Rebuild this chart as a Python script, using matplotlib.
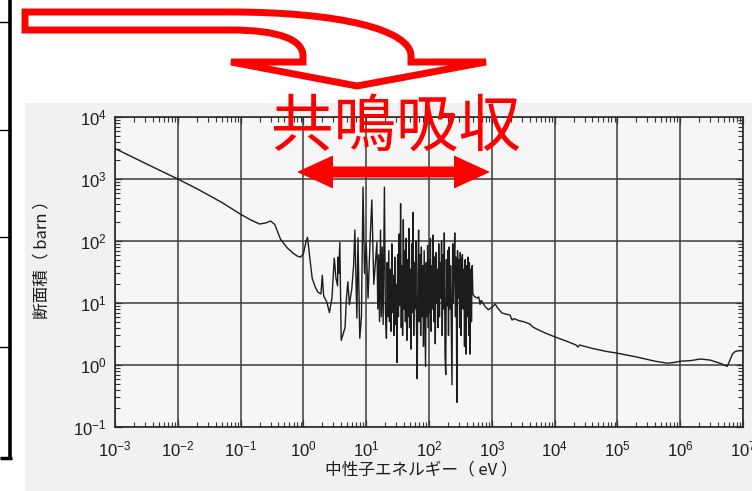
import matplotlib
matplotlib.use('Agg')
import matplotlib.pyplot as plt
from matplotlib.path import Path
from matplotlib.patches import PathPatch, Rectangle, Polygon
from matplotlib.ticker import LogLocator, NullFormatter

# ---------------- data ----------------
energy_ev = [
    0.001, 0.002, 0.005, 0.01, 0.02, 0.05, 0.1, 0.15, 0.2, 0.25, 0.3, 0.35, 0.43, 0.55, 0.68, 0.8, 0.9,
    1.0, 1.08, 1.16, 1.25, 1.38, 1.55, 1.7, 1.9, 2.0, 2.1, 2.35, 2.6, 2.85, 3.1, 3.3, 3.5, 3.55, 3.65, 3.8,
    4.0, 4.3, 4.6, 4.85, 5.1, 5.4, 5.9, 6.3, 6.6, 7.1, 7.4, 7.9, 8.4, 8.9, 9.4, 10.0, 10.7, 11.5, 12.3,
    13.2, 14.0, 14.8, 15.3, 15.8, 16.3, 16.9, 17.4, 18.0, 18.6, 19.0, 19.5,
    20.2, 21.0, 21.6, 22.2, 22.9, 23.5, 24.2, 24.9, 25.6, 26.3, 27.0, 27.8, 28.5, 29.3, 30.1, 30.9, 31.7,
    32.6, 33.5, 34.4, 35.3, 36.2, 37.1, 38.0, 39.0, 40.0, 41.0, 42.1, 43.2, 44.3, 45.4, 46.6, 47.8, 49.0, 50.3,
    51.6, 52.9, 54.3, 55.7, 57.1, 58.6, 60.1, 61.7, 63.3, 64.9, 66.6, 68.3, 70.1, 71.9, 73.7, 75.6, 77.6, 79.6,
    81.7, 83.8, 85.9, 88.1, 90.4, 92.7, 95.1, 97.6, 100.1, 102.7, 105.3, 108.0, 110.8, 113.7, 116.6, 119.6, 122.7, 125.9,
    129.1, 132.5, 135.9, 139.4, 143.0, 146.7, 150.5, 154.4, 158.4, 162.5, 166.7, 171.0, 175.4, 179.9, 184.6, 189.4, 194.3, 199.3,
    204.4, 209.7, 215.1, 220.7, 226.4, 232.2, 238.2, 244.4, 250.7, 257.2, 263.8, 270.6, 277.6, 284.8, 292.2, 299.7, 307.5, 315.4,
    323.6, 332.0, 340.5, 349.3, 358.4, 367.6, 377.1, 386.9, 396.9, 407.2, 417.7, 428.5, 439.6, 451.0, 462.6, 474.6, 486.9, 499.5,
    520, 580, 620, 650, 680, 780, 880, 1000, 1130, 1250, 1450, 1700, 1950, 2100, 2250, 2700, 3200, 4000, 4500, 5200,
    7000, 1.0e4, 1.5e4, 2.2e4, 2.35e4, 2.5e4, 4.0e4, 6.8e4, 1.0e5, 2.0e5, 4.0e5, 6.2e5, 8.0e5, 1.0e6, 1.5e6, 2.1e6,
    3.0e6, 4.5e6, 5.6e6, 6.2e6, 6.8e6, 7.5e6, 8.5e6, 1.0e7,
]
sigma_barn = [
    3100, 2200, 1400, 1000, 700, 420, 270, 215, 188, 195, 210, 185, 108, 78, 64, 57, 55,
    62, 90, 115, 60, 25, 18, 15, 14, 28, 13, 10.5, 7, 12, 53, 25, 19, 55, 30, 95,
    2.5, 3.2, 4, 12, 22, 9.4, 17, 40, 150, 5.7, 112, 2.7, 6, 740, 30, 95, 12, 95, 460,
    20, 45, 95, 8, 60, 5, 150, 6, 80, 4.5, 40, 740,
    8, 2.7, 45, 6, 70, 5, 35, 3.5, 90, 7, 28, 3, 55, 4.5, 20, 1.1, 60,
    6, 130, 9, 400, 4, 40, 3, 220, 8, 70, 5, 110, 2.5, 50, 6, 160, 4, 35,
    1.8, 90, 7, 290, 3, 45, 8, 100, 4, 0.6, 30, 150, 5, 60, 3, 80, 6, 40,
    2, 70, 9, 0.95, 45, 6, 85, 4, 50, 7, 110, 3.5, 40, 8, 125, 5, 55, 2.2,
    65, 10, 35, 4, 90, 6, 45, 12, 100, 3, 60, 8, 135, 1.5, 0.7, 50, 9, 70,
    3, 80, 8, 40, 5, 0.48, 90, 10, 45, 135, 6, 55, 0.25, 70, 12, 50, 4, 65,
    3, 45, 60, 8, 35, 2, 50, 1.5, 40, 6, 55, 3, 45, 1.5, 35, 5, 40, 14,
    13, 12, 12.5, 9.5, 11, 8.8, 7.8, 8.5, 9.6, 8.2, 6.9, 6.6, 6.4, 5.3, 5.6, 5.2, 5.0, 4.6, 4.1, 3.8,
    3.3, 2.85, 2.45, 2.1, 1.95, 2.1, 1.85, 1.65, 1.55, 1.35, 1.15, 1.07, 1.1, 1.15, 1.18, 1.25,
    1.2, 1.05, 0.95, 1.2, 1.5, 1.65, 1.7, 1.7,
]

x_ticks = [1e-3, 1e-2, 1e-1, 1e0, 1e1, 1e2, 1e3, 1e4, 1e5, 1e6, 1e7]
x_tick_labels = [r'$10^{-3}$', r'$10^{-2}$', r'$10^{-1}$', r'$10^{0}$', r'$10^{1}$', r'$10^{2}$',
                 r'$10^{3}$', r'$10^{4}$', r'$10^{5}$', r'$10^{6}$', r'$10^{7}$']
y_ticks = [1e-1, 1e0, 1e1, 1e2, 1e3, 1e4]
y_tick_labels = [r'$10^{-1}$', r'$10^{0}$', r'$10^{1}$', r'$10^{2}$', r'$10^{3}$', r'$10^{4}$']

x_label = '中性子エネルギー（ eV ）'
y_label = '断面積（ barn ）'
annotation_text = '共鳴吸収'

# ---------------- style ----------------
plt.rcParams['font.family'] = ['Liberation Sans', 'Noto Sans CJK JP', 'DejaVu Sans']
plt.rcParams['mathtext.fontset'] = 'custom'
plt.rcParams['mathtext.rm'] = 'Liberation Sans'
plt.rcParams['mathtext.it'] = 'Liberation Sans:italic'
plt.rcParams['mathtext.bf'] = 'Liberation Sans:bold'

W, H = 752, 491
fig = plt.figure(figsize=(W / 100, H / 100), dpi=100)
fig.patch.set_facecolor('white')

# background (scanned page area)
bg = fig.add_axes([0, 0, 1, 1], zorder=-5)
bg.set_xlim(0, W)
bg.set_ylim(H, 0)
bg.axis('off')
bg.add_patch(Rectangle((25, 103), W - 25, H - 103, facecolor='#f1f1f1', edgecolor='none'))

# main chart
ax = fig.add_axes([115 / W, (H - 427) / H, 628 / W, 310 / H], zorder=1)
ax.set_facecolor('#f6f6f6')
ax.set_xscale('log')
ax.set_yscale('log')
ax.plot(energy_ev, sigma_barn, color='#1c1c1c', lw=1.0, zorder=3)
ax.set_xlim(1e-3, 1e7)
ax.set_ylim(1e-1, 1e4)

ax.set_xticks(x_ticks, labels=x_tick_labels)
ax.set_yticks(y_ticks, labels=y_tick_labels)
ax.xaxis.set_minor_locator(LogLocator(base=10, subs=[2, 3, 4, 5, 6, 7, 8, 9], numticks=100))
ax.yaxis.set_minor_locator(LogLocator(base=10, subs=[2, 3, 4, 5, 6, 7, 8, 9], numticks=100))
ax.xaxis.set_minor_formatter(NullFormatter())
ax.yaxis.set_minor_formatter(NullFormatter())
ax.tick_params(which='both', direction='in', top=True, right=True, colors='#333333')
ax.tick_params(which='major', length=5, width=0.9, labelsize=12, labelcolor='#1a1a1a')
ax.tick_params(which='minor', length=3.5, width=0.8)
ax.tick_params(axis='x', which='major', pad=9)
ax.tick_params(axis='y', which='major', pad=6)
ax.grid(True, which='major', color='#3c3c3c', lw=1.1)
for s in ax.spines.values():
    s.set_color('#2a2a2a')
    s.set_linewidth(1.2)

fig.text(42 / W, 1 - 256 / H, y_label, rotation=90, ha='center', va='center', fontsize=12,
         color='#1a1a1a', family=['Noto Sans CJK JP', 'DejaVu Sans'])
fig.text(421 / W, 1 - 470 / H, x_label, ha='center', va='center', fontsize=12,
         color='#1a1a1a', family=['Noto Sans CJK JP', 'DejaVu Sans'])

# overlay annotations in pixel coordinates
ov = fig.add_axes([0, 0, 1, 1], zorder=10)
ov.set_xlim(0, W)
ov.set_ylim(H, 0)
ov.axis('off')

# left black bracket (edge of neighbouring figure)
ov.plot([10, 10], [0, 458], color='black', lw=2.6, solid_capstyle='butt')
for yy in [22, 130, 237, 347]:
    ov.plot([0, 9], [yy, yy], color='black', lw=1.0)
ov.plot([0, 11.5], [458, 458], color='black', lw=2.5, solid_capstyle='butt')

# red bent outline arrow
verts = [
    (25, 12), (230, 12),
    (340, 12), (411, 30), (411, 56),
    (411, 62), (486, 62), (357, 86), (231, 62), (303, 62), (303, 56),
    (303, 40), (280, 30), (230, 30),
    (25, 30), (25, 12),
]
codes = [Path.MOVETO, Path.LINETO,
         Path.CURVE4, Path.CURVE4, Path.CURVE4,
         Path.LINETO, Path.LINETO, Path.LINETO, Path.LINETO, Path.LINETO, Path.LINETO,
         Path.CURVE4, Path.CURVE4, Path.CURVE4,
         Path.LINETO, Path.CLOSEPOLY]
ov.add_patch(PathPatch(Path(verts, codes), facecolor='none', edgecolor='#ff0000', lw=5.0,
                       joinstyle='miter'))

# red double arrow
yc = 172
arrow_pts = [(297, yc), (333, yc - 16.5), (333, yc - 5.5), (454, yc - 5.5), (454, yc - 16.5),
             (490, yc), (454, yc + 16.5), (454, yc + 5.5), (333, yc + 5.5), (333, yc + 16.5)]
ov.add_patch(Polygon(arrow_pts, closed=True, facecolor='#ff0000', edgecolor='none'))

ov.text(396, 128, annotation_text, ha='center', va='center', fontsize=45, color='#ff0000',
        family=['Noto Sans CJK JP', 'DejaVu Sans'])

fig.savefig('out.png', dpi=100)
